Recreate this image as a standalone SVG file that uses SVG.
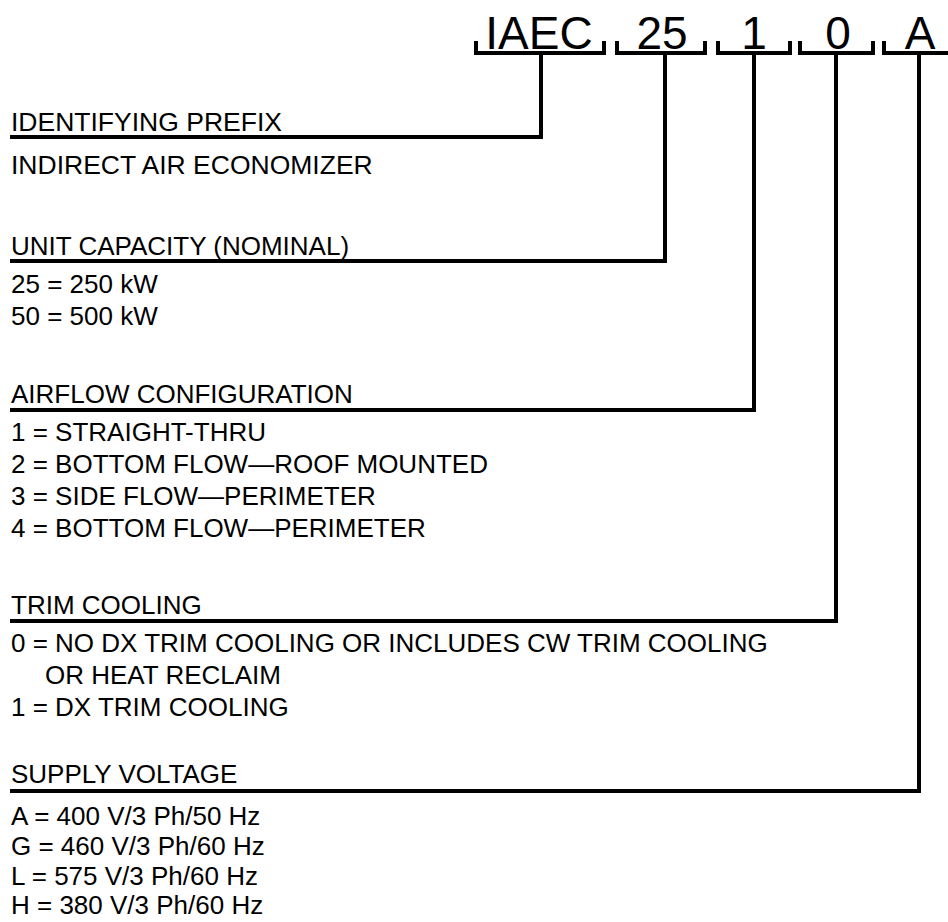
<svg xmlns="http://www.w3.org/2000/svg" width="948" height="922" viewBox="0 0 948 922">
<style>
.t{font-family:"Liberation Sans",Arial,sans-serif;font-size:26.5px;fill:#000}
.c{font-family:"Liberation Sans",Arial,sans-serif;font-size:26px;fill:#000}
.h{font-family:"Liberation Sans",Arial,sans-serif;font-size:46px;fill:#000;text-anchor:middle}
.ln{fill:none;stroke:#000;stroke-width:4;stroke-linejoin:miter;stroke-linecap:butt}
</style>
<rect width="948" height="922" fill="#fff"/>
<g id="header">
<text class="h" x="539" y="49">IAEC</text>
<text class="h" x="662" y="49">25</text>
<text class="h" x="754" y="49">1</text>
<text class="h" x="838" y="49">0</text>
<text class="h" x="920" y="49">A</text>
</g>
<g id="connectors" class="ln">
<path d="M476 41V53H604V41"/>
<path d="M617 41V53H705V41"/>
<path d="M718 41V53H790V41"/>
<path d="M800 41V53H873V41"/>
<path d="M884 41V53H948"/>
<path d="M10 137H541V53"/>
<path d="M10 261H665V53"/>
<path d="M10 410H754V53"/>
<path d="M10 621H836V53"/>
<path d="M10 791H919V53"/>
</g>
<g id="prefix">
<text class="t" x="11" y="131">IDENTIFYING PREFIX</text>
<text class="t" x="11" y="174">INDIRECT AIR ECONOMIZER</text>
</g>
<g id="capacity">
<text class="c" x="11" y="255">UNIT CAPACITY (NOMINAL)</text>
<text class="c" x="11" y="293">25 = 250 kW</text>
<text class="c" x="11" y="325">50 = 500 kW</text>
</g>
<g id="airflow">
<text class="c" x="11" y="403">AIRFLOW CONFIGURATION</text>
<text class="c" x="11" y="441">1 = STRAIGHT-THRU</text>
<text class="c" x="11" y="473">2 = BOTTOM FLOW—ROOF MOUNTED</text>
<text class="c" x="11" y="505">3 = SIDE FLOW—PERIMETER</text>
<text class="c" x="11" y="537">4 = BOTTOM FLOW—PERIMETER</text>
</g>
<g id="trim">
<text class="c" x="11" y="614">TRIM COOLING</text>
<text class="c" x="11" y="652">0 = NO DX TRIM COOLING OR INCLUDES CW TRIM COOLING</text>
<text class="c" x="45" y="684">OR HEAT RECLAIM</text>
<text class="c" x="11" y="716">1 = DX TRIM COOLING</text>
</g>
<g id="voltage">
<text class="c" x="11" y="783">SUPPLY VOLTAGE</text>
<text class="c" x="11" y="825">A = 400 V/3 Ph/50 Hz</text>
<text class="c" x="11" y="855">G = 460 V/3 Ph/60 Hz</text>
<text class="c" x="11" y="885">L = 575 V/3 Ph/60 Hz</text>
<text class="c" x="11" y="914">H = 380 V/3 Ph/60 Hz</text>
</g>
</svg>
